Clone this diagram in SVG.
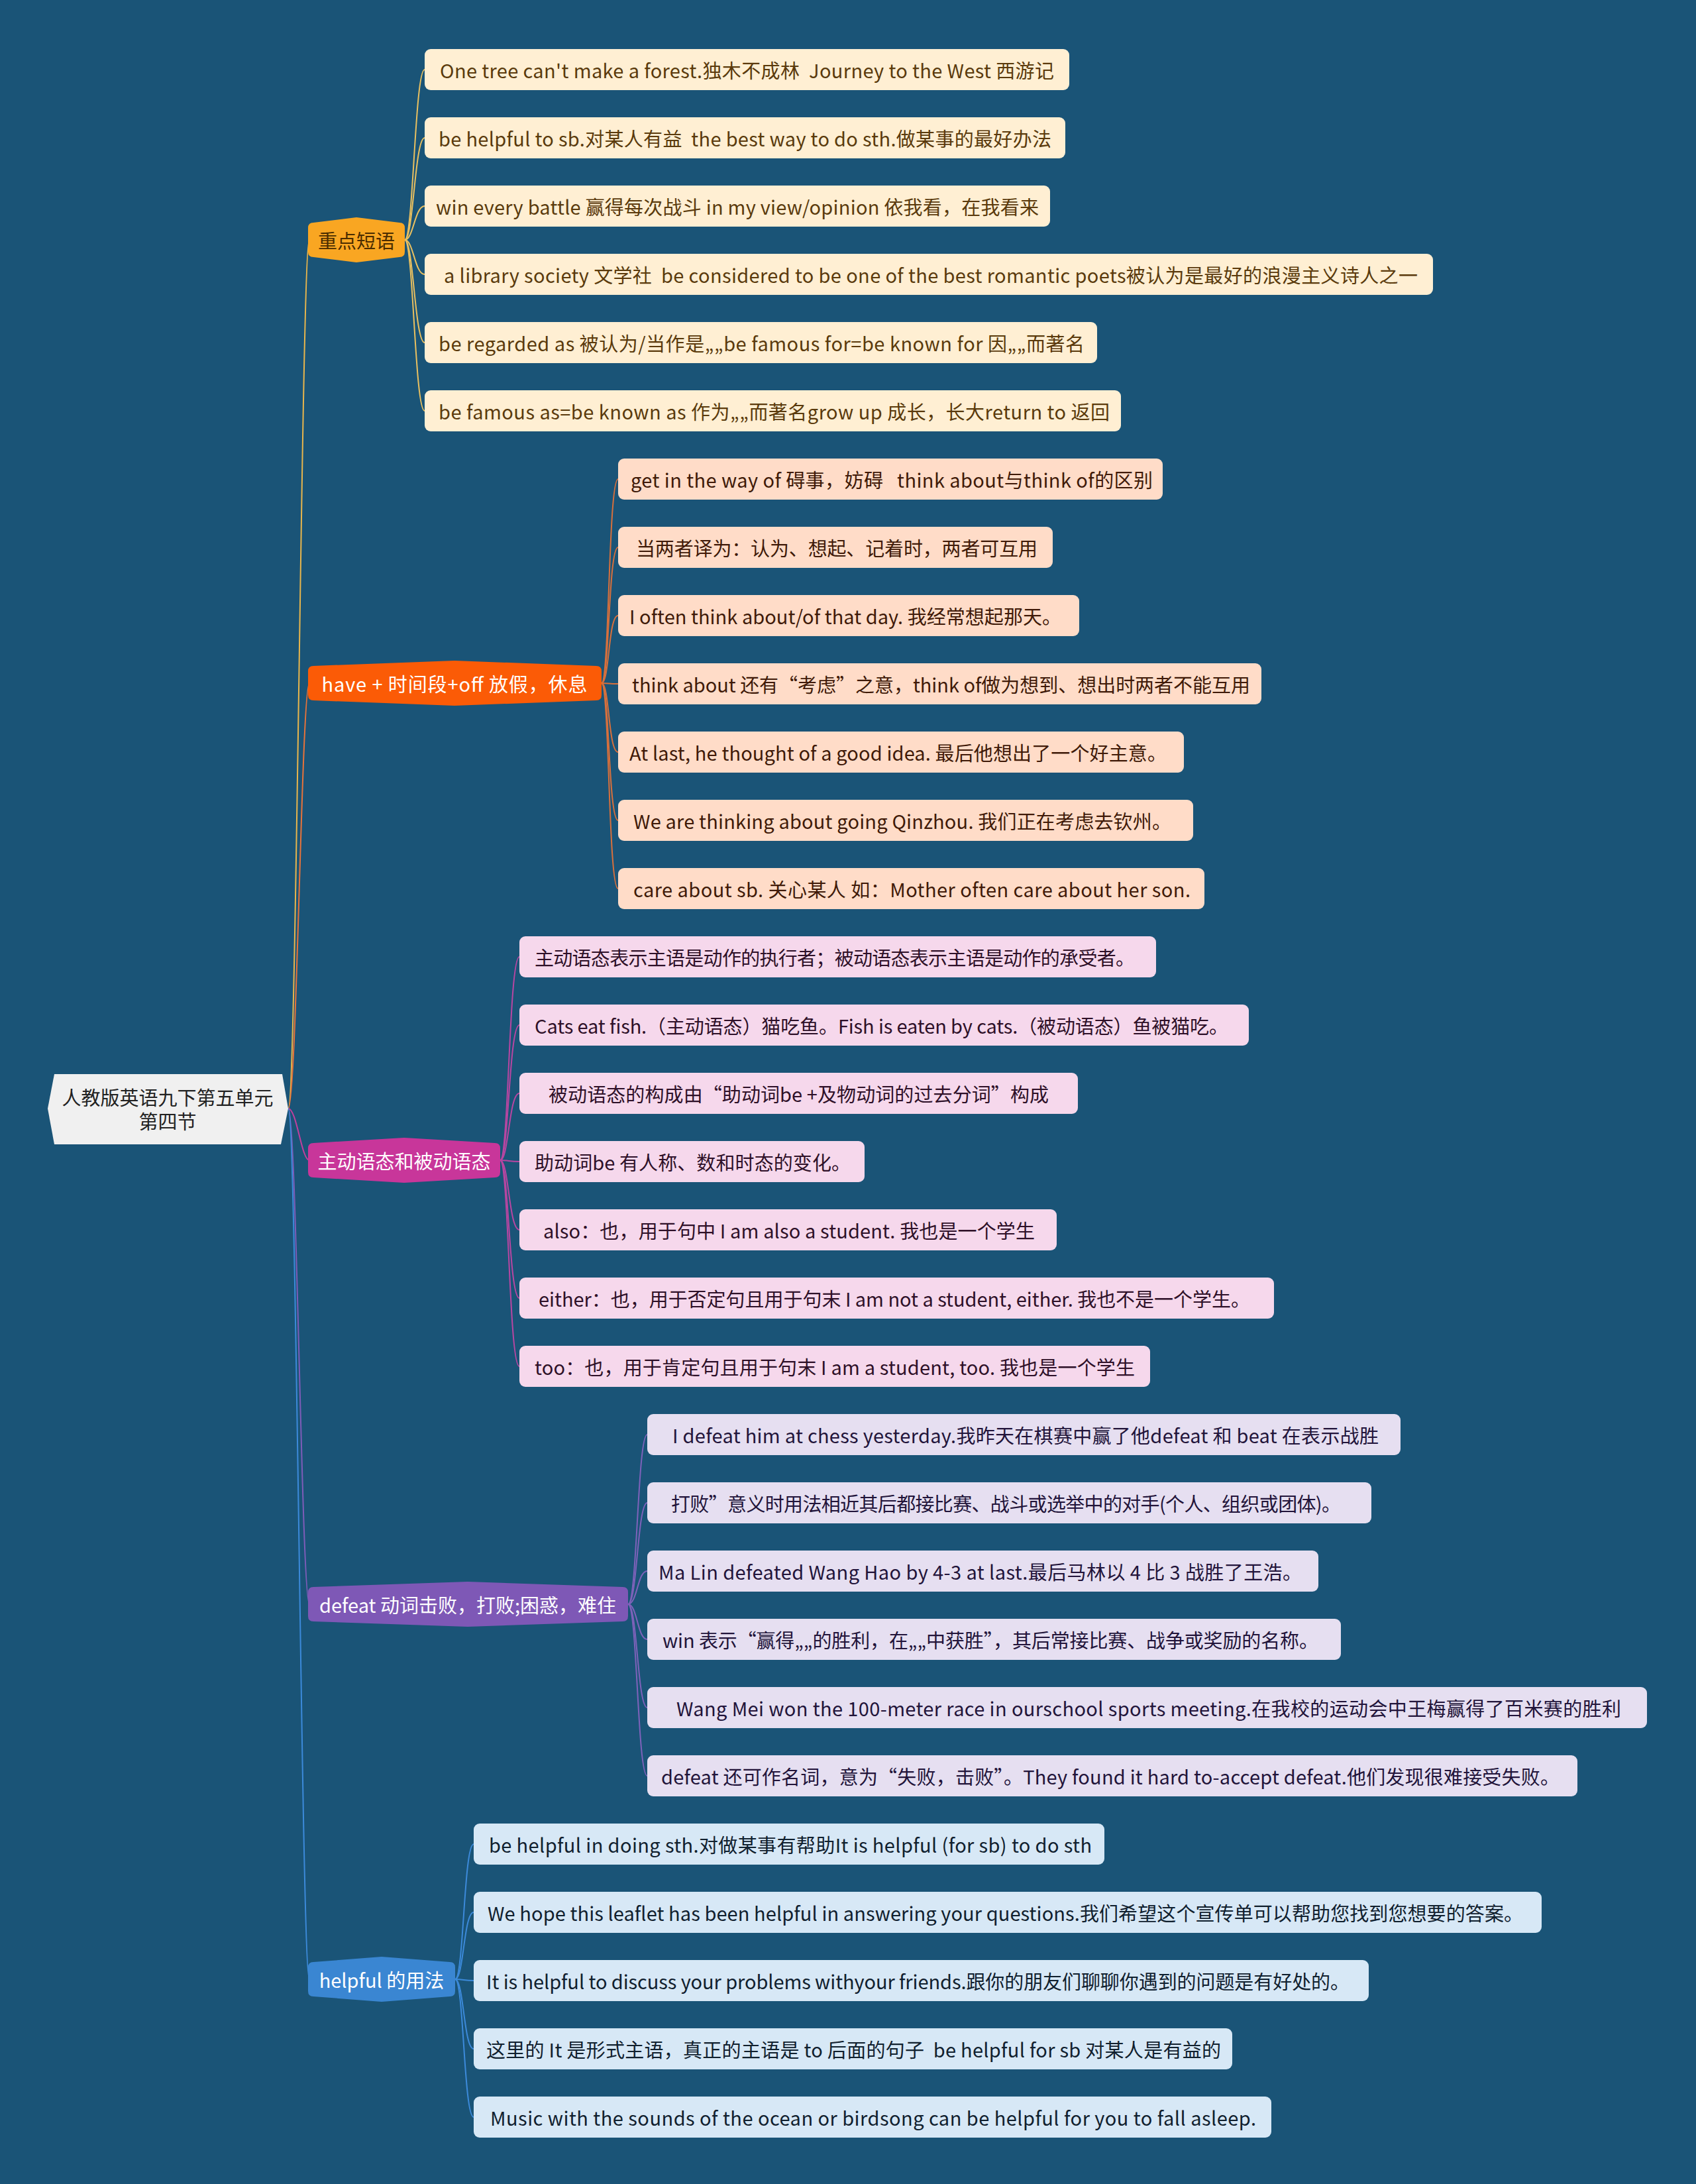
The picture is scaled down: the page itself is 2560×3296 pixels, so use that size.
<svg xmlns="http://www.w3.org/2000/svg" width="2560" height="3296" viewBox="0 0 2560 3296">
<style>
text{font-family:"Noto Sans CJK SC","Noto Sans",sans-serif;font-size:29px;dominant-baseline:central}
.c{fill:none;stroke-width:2}
.b1 rect{fill:#FFEFD3}.b1 text{fill:#5a3a0c}
.b2 rect{fill:#FFDCC8}.b2 text{fill:#3f1a08}
.b3 rect{fill:#F6D8EC}.b3 text{fill:#2e1028}
.b4 rect{fill:#E6DFF1}.b4 text{fill:#22143a}
.b5 rect{fill:#D7E8F6}.b5 text{fill:#10202e}
.leaf rect{rx:9;ry:9}
.br text{text-anchor:middle}
</style>
<rect width="2560" height="3296" fill="#1A5477"/>
<g id="connectors">
<path class="c" stroke="#E9B64C" d="M435 1673 C448 1673 455 362 467 362"/>
<path class="c" stroke="#E8733A" d="M435 1673 C448 1673 455 1031 467 1031"/>
<path class="c" stroke="#C13F9E" d="M435 1673 C448 1673 455 1751 467 1751"/>
<path class="c" stroke="#7E5CB8" d="M435 1673 C448 1673 455 2421 467 2421"/>
<path class="c" stroke="#3C8ADA" d="M435 1673 C448 1673 455 2987 467 2987"/>
<g stroke="#E9C060" class="c">
<path d="M611 362 C624 362 626 105 641 105"/>
<path d="M611 362 C624 362 626 208 641 208"/>
<path d="M611 362 C624 362 626 311 641 311"/>
<path d="M611 362 C624 362 626 414 641 414"/>
<path d="M611 362 C624 362 626 517 641 517"/>
<path d="M611 362 C624 362 626 620 641 620"/>
</g>
<g stroke="#D8703C" class="c">
<path d="M908 1031 C920 1031 918 723 933 723"/>
<path d="M908 1031 C920 1031 918 826 933 826"/>
<path d="M908 1031 C920 1031 918 929 933 929"/>
<path d="M908 1031 C920 1031 918 1032 933 1032"/>
<path d="M908 1031 C920 1031 918 1135 933 1135"/>
<path d="M908 1031 C920 1031 918 1238 933 1238"/>
<path d="M908 1031 C920 1031 918 1341 933 1341"/>
</g>
<g stroke="#B846A2" class="c">
<path d="M755 1751 C768 1751 768 1444 784 1444"/>
<path d="M755 1751 C768 1751 768 1547 784 1547"/>
<path d="M755 1751 C768 1751 768 1650 784 1650"/>
<path d="M755 1751 C768 1751 768 1753 784 1753"/>
<path d="M755 1751 C768 1751 768 1856 784 1856"/>
<path d="M755 1751 C768 1751 768 1959 784 1959"/>
<path d="M755 1751 C768 1751 768 2062 784 2062"/>
</g>
<g stroke="#7E62BA" class="c">
<path d="M948 2421 C962 2421 962 2165 977 2165"/>
<path d="M948 2421 C962 2421 962 2268 977 2268"/>
<path d="M948 2421 C962 2421 962 2371 977 2371"/>
<path d="M948 2421 C962 2421 962 2474 977 2474"/>
<path d="M948 2421 C962 2421 962 2577 977 2577"/>
<path d="M948 2421 C962 2421 962 2680 977 2680"/>
</g>
<g stroke="#3C8ADA" class="c">
<path d="M687 2987 C700 2987 700 2783 715 2783"/>
<path d="M687 2987 C700 2987 700 2886 715 2886"/>
<path d="M687 2987 C700 2987 700 2989 715 2989"/>
<path d="M687 2987 C700 2987 700 3092 715 3092"/>
<path d="M687 2987 C700 2987 700 3195 715 3195"/>
</g>
</g>
<g id="root">
<polygon points="82,1621 426,1621 435,1673 424,1727 82,1727 72,1673" fill="#F0F0F0"/>
<text x="253" y="1655" text-anchor="middle" fill="#222">人教版英语九下第五单元</text>
<text x="253" y="1691" text-anchor="middle" fill="#222">第四节</text>
</g>
<g id="branch-1" class="br">
<path d="M473 336 L538 328 L603 336 Q611 336 611 344 L611 380 Q611 388 603 388 L538 396 L473 388 Q465 388 465 380 L465 344 Q465 336 473 336 Z" fill="#F9A622"/>
<text x="538" y="362" fill="#4a2c00">重点短语</text>
</g>
<g id="branch-2" class="br">
<path d="M473 1005 L686 997 L900 1005 Q908 1005 908 1013 L908 1049 Q908 1057 900 1057 L686 1065 L473 1057 Q465 1057 465 1049 L465 1013 Q465 1005 473 1005 Z" fill="#FB5B06"/>
<text x="686" y="1031" fill="#FFFFFF" textLength="401">have + 时间段+off 放假，休息</text>
</g>
<g id="branch-3" class="br">
<path d="M473 1725 L610 1717 L747 1725 Q755 1725 755 1733 L755 1769 Q755 1777 747 1777 L610 1785 L473 1777 Q465 1777 465 1769 L465 1733 Q465 1725 473 1725 Z" fill="#C8369A"/>
<text x="610" y="1751" fill="#FFFFFF">主动语态和被动语态</text>
</g>
<g id="branch-4" class="br">
<path d="M473 2395 L706 2387 L940 2395 Q948 2395 948 2403 L948 2439 Q948 2447 940 2447 L706 2455 L473 2447 Q465 2447 465 2439 L465 2403 Q465 2395 473 2395 Z" fill="#7E58B6"/>
<text x="706" y="2421" fill="#FFFFFF">defeat 动词击败，打败;困惑，难住</text>
</g>
<g id="branch-5" class="br">
<path d="M473 2961 L576 2953 L679 2961 Q687 2961 687 2969 L687 3005 Q687 3013 679 3013 L576 3021 L473 3013 Q465 3013 465 3005 L465 2969 Q465 2961 473 2961 Z" fill="#3A86D2"/>
<text x="576" y="2987" fill="#FFFFFF">helpful 的用法</text>
</g>
<g class="b1">
<g id="leaf-0" class="leaf"><rect x="641" y="74" width="973" height="62"/><text x="664" y="105" textLength="927" xml:space="preserve">One tree can't make a forest.独木不成林  Journey to the West 西游记</text></g>
<g id="leaf-1" class="leaf"><rect x="641" y="177" width="967" height="62"/><text x="662" y="208" textLength="925" xml:space="preserve">be helpful to sb.对某人有益  the best way to do sth.做某事的最好办法</text></g>
<g id="leaf-2" class="leaf"><rect x="641" y="280" width="944" height="62"/><text x="658" y="311" textLength="910" xml:space="preserve">win every battle 赢得每次战斗 in my view/opinion 依我看，在我看来</text></g>
<g id="leaf-3" class="leaf"><rect x="641" y="383" width="1522" height="62"/><text x="670" y="414" textLength="1470" xml:space="preserve">a library society 文学社  be considered to be one of the best romantic poets被认为是最好的浪漫主义诗人之一</text></g>
<g id="leaf-4" class="leaf"><rect x="641" y="486" width="1015" height="62"/><text x="662" y="517" textLength="975" xml:space="preserve">be regarded as 被认为/当作是„„be famous for=be known for 因„„而著名</text></g>
<g id="leaf-5" class="leaf"><rect x="641" y="589" width="1051" height="62"/><text x="662" y="620" textLength="1013" xml:space="preserve">be famous as=be known as 作为„„而著名grow up 成长，长大return to 返回</text></g>
</g>
<g class="b2">
<g id="leaf-6" class="leaf"><rect x="933" y="692" width="822" height="62"/><text x="952" y="723" textLength="788" xml:space="preserve">get in the way of 碍事，妨碍   think about与think of的区别</text></g>
<g id="leaf-7" class="leaf"><rect x="933" y="795" width="656" height="62"/><text x="960" y="826" textLength="606" xml:space="preserve">当两者译为：认为、想起、记着时，两者可互用</text></g>
<g id="leaf-8" class="leaf"><rect x="933" y="898" width="696" height="62"/><text x="950" y="929" textLength="652" xml:space="preserve">I often think about/of that day. 我经常想起那天。</text></g>
<g id="leaf-9" class="leaf"><rect x="933" y="1001" width="971" height="62"/><text x="954" y="1032" textLength="933" xml:space="preserve">think about 还有“考虑”之意，think of做为想到、想出时两者不能互用</text></g>
<g id="leaf-10" class="leaf"><rect x="933" y="1104" width="854" height="62"/><text x="950" y="1135" textLength="811" xml:space="preserve">At last, he thought of a good idea. 最后他想出了一个好主意。</text></g>
<g id="leaf-11" class="leaf"><rect x="933" y="1207" width="868" height="62"/><text x="956" y="1238" textLength="812" xml:space="preserve">We are thinking about going Qinzhou. 我们正在考虑去钦州。</text></g>
<g id="leaf-12" class="leaf"><rect x="933" y="1310" width="885" height="62"/><text x="956" y="1341" textLength="841" xml:space="preserve">care about sb. 关心某人 如：Mother often care about her son.</text></g>
</g>
<g class="b3">
<g id="leaf-13" class="leaf"><rect x="784" y="1413" width="961" height="62"/><text x="807" y="1444" textLength="906" xml:space="preserve">主动语态表示主语是动作的执行者；被动语态表示主语是动作的承受者。</text></g>
<g id="leaf-14" class="leaf"><rect x="784" y="1516" width="1101" height="62"/><text x="807" y="1547" textLength="1047" xml:space="preserve">Cats eat fish.（主动语态）猫吃鱼。Fish is eaten by cats.（被动语态）鱼被猫吃。</text></g>
<g id="leaf-15" class="leaf"><rect x="784" y="1619" width="843" height="62"/><text x="828" y="1650" textLength="755" xml:space="preserve">被动语态的构成由“助动词be +及物动词的过去分词”构成</text></g>
<g id="leaf-16" class="leaf"><rect x="784" y="1722" width="521" height="62"/><text x="807" y="1753" textLength="477" xml:space="preserve">助动词be 有人称、数和时态的变化。</text></g>
<g id="leaf-17" class="leaf"><rect x="784" y="1825" width="811" height="62"/><text x="820" y="1856" textLength="742" xml:space="preserve">also：也，用于句中 I am also a student. 我也是一个学生</text></g>
<g id="leaf-18" class="leaf"><rect x="784" y="1928" width="1139" height="62"/><text x="813" y="1959" textLength="1074" xml:space="preserve">either：也，用于否定句且用于句末 I am not a student, either. 我也不是一个学生。</text></g>
<g id="leaf-19" class="leaf"><rect x="784" y="2031" width="952" height="62"/><text x="807" y="2062" textLength="906" xml:space="preserve">too：也，用于肯定句且用于句末 I am a student, too. 我也是一个学生</text></g>
</g>
<g class="b4">
<g id="leaf-20" class="leaf"><rect x="977" y="2134" width="1137" height="62"/><text x="1015" y="2165" textLength="1066" xml:space="preserve">I defeat him at chess yesterday.我昨天在棋赛中赢了他defeat 和 beat 在表示战胜</text></g>
<g id="leaf-21" class="leaf"><rect x="977" y="2237" width="1093" height="62"/><text x="1013" y="2268" textLength="1011" xml:space="preserve">打败”意义时用法相近其后都接比赛、战斗或选举中的对手(个人、组织或团体)。</text></g>
<g id="leaf-22" class="leaf"><rect x="977" y="2340" width="1013" height="62"/><text x="994" y="2371" textLength="971" xml:space="preserve">Ma Lin defeated Wang Hao by 4-3 at last.最后马林以 4 比 3 战胜了王浩。</text></g>
<g id="leaf-23" class="leaf"><rect x="977" y="2443" width="1047" height="62"/><text x="1000" y="2474" textLength="990" xml:space="preserve">win 表示“赢得„„的胜利，在„„中获胜”，其后常接比赛、战争或奖励的名称。</text></g>
<g id="leaf-24" class="leaf"><rect x="977" y="2546" width="1509" height="62"/><text x="1021" y="2577" textLength="1426" xml:space="preserve">Wang Mei won the 100-meter race in ourschool sports meeting.在我校的运动会中王梅赢得了百米赛的胜利</text></g>
<g id="leaf-25" class="leaf"><rect x="977" y="2649" width="1404" height="62"/><text x="998" y="2680" textLength="1356" xml:space="preserve">defeat 还可作名词，意为“失败，击败”。They found it hard to-accept defeat.他们发现很难接受失败。</text></g>
</g>
<g class="b5">
<g id="leaf-26" class="leaf"><rect x="715" y="2752" width="952" height="62"/><text x="738" y="2783" textLength="910" xml:space="preserve">be helpful in doing sth.对做某事有帮助It is helpful (for sb) to do sth</text></g>
<g id="leaf-27" class="leaf"><rect x="715" y="2855" width="1612" height="62"/><text x="736" y="2886" textLength="1563" xml:space="preserve">We hope this leaflet has been helpful in answering your questions.我们希望这个宣传单可以帮助您找到您想要的答案。</text></g>
<g id="leaf-28" class="leaf"><rect x="715" y="2958" width="1351" height="62"/><text x="734" y="2989" textLength="1303" xml:space="preserve">It is helpful to discuss your problems withyour friends.跟你的朋友们聊聊你遇到的问题是有好处的。</text></g>
<g id="leaf-29" class="leaf"><rect x="715" y="3061" width="1145" height="62"/><text x="734" y="3092" textLength="1109" xml:space="preserve">这里的 It 是形式主语，真正的主语是 to 后面的句子  be helpful for sb 对某人是有益的</text></g>
<g id="leaf-30" class="leaf"><rect x="715" y="3164" width="1204" height="62"/><text x="740" y="3195" textLength="1156" xml:space="preserve">Music with the sounds of the ocean or birdsong can be helpful for you to fall asleep.</text></g>
</g>
</svg>
